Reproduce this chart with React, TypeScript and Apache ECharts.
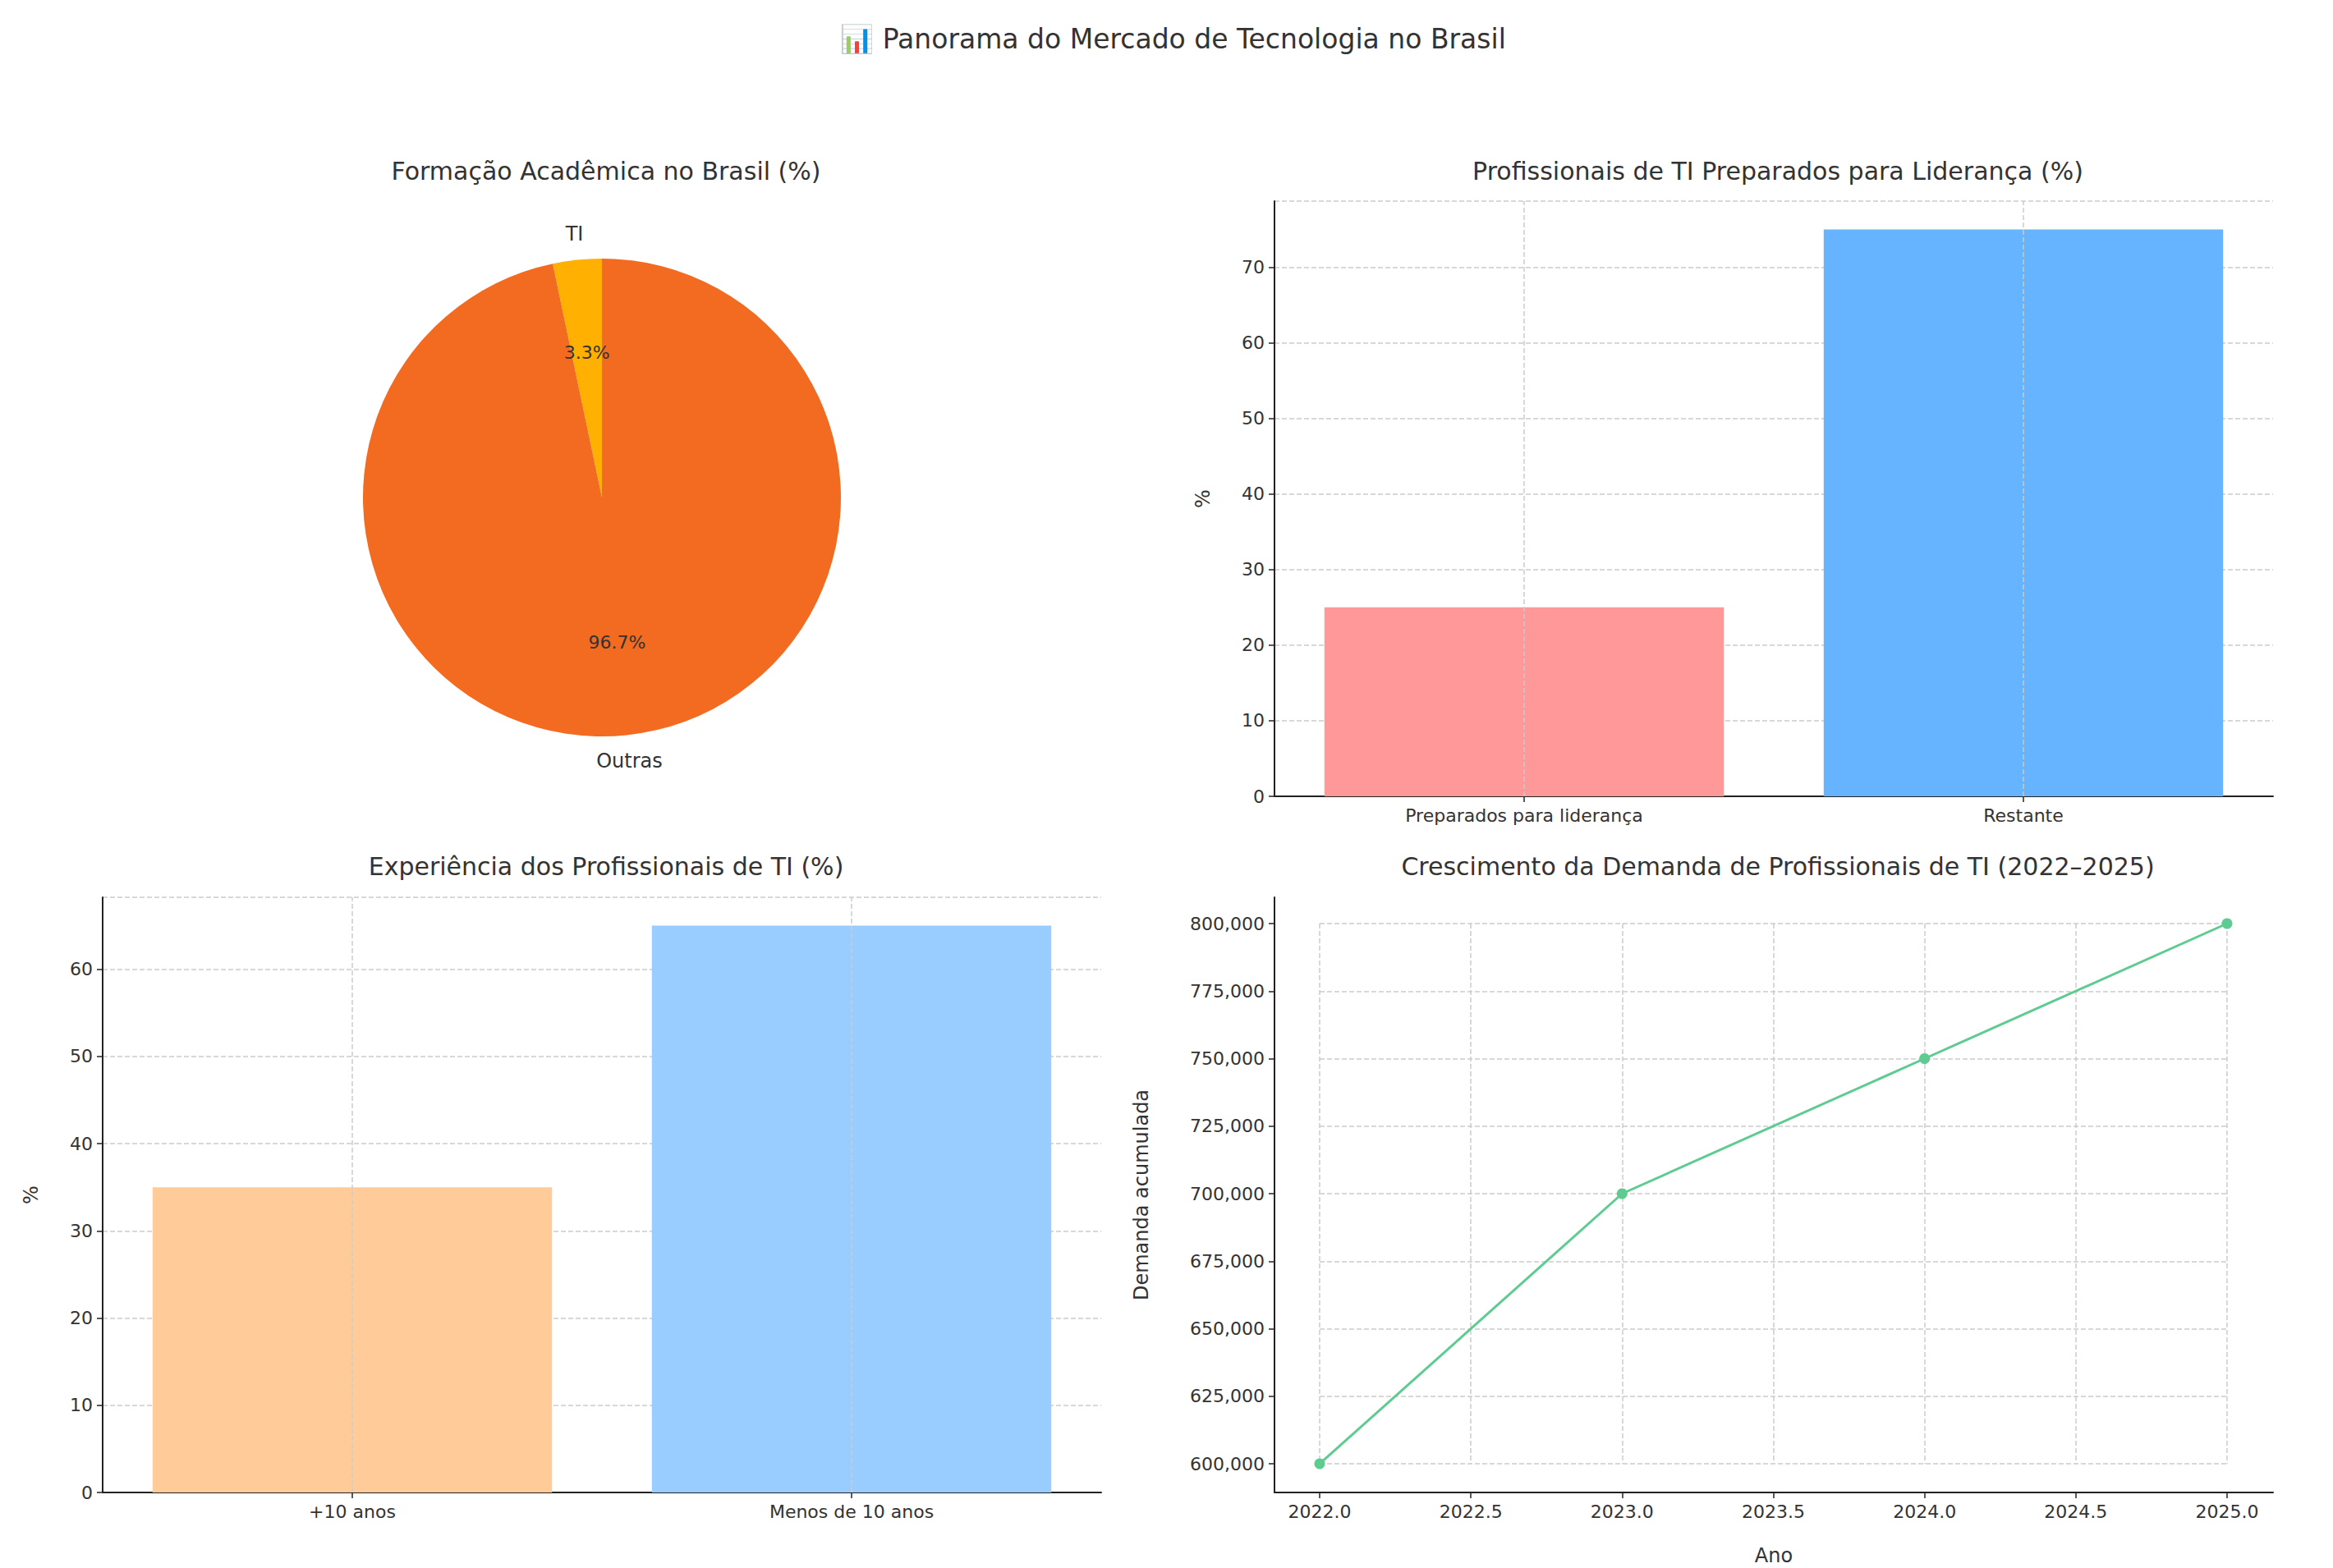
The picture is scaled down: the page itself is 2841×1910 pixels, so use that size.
import React, { useEffect, useRef } from "react";
import * as echarts from "echarts";

const pieNames = ["TI", "Outras"];
const pieValues = [3.3, 96.7];
const liderCats = ["Preparados para liderança", "Restante"];
const liderValues = [25, 75];
const expCats = ["+10 anos", "Menos de 10 anos"];
const expValues = [35, 65];
const anos = [2022, 2023, 2024, 2025];
const demanda = [600000, 700000, 750000, 800000];

const FONT = "DejaVu Sans";
const TXT = "#333";
const gridLine = { show: true, lineStyle: { color: "#ccc", type: "dashed", width: 1.5 } };
const axisLine = { show: true, lineStyle: { color: "#222", width: 2 } };
const tickStyle = { show: true, length: 7, lineStyle: { color: "#222", width: 1.5 } };
const lbl = { color: TXT, fontSize: 22, fontFamily: FONT };

const vLines = (cats: string[]) => ({
  silent: true,
  symbol: "none",
  label: { show: false },
  lineStyle: { color: "#ccc", type: "dashed", width: 1.5 },
  data: cats.map((c) => ({ xAxis: c })),
});

const App: React.FC = () => {
  const ref = useRef<HTMLDivElement>(null);

  useEffect(() => {
    if (!ref.current) return;
    const chart = echarts.init(ref.current, null, { renderer: "svg" });
    const R = 291;
    const center = [725, 598];
    const pieColors = ["#ffb000", "#f26b21"];

    const option = {
      animation: false,
      backgroundColor: "#fff",
      textStyle: { fontFamily: FONT },
      title: [
        { text: "📊 Panorama do Mercado de Tecnologia no Brasil", left: "center", top: 18, textStyle: { fontSize: 33, fontWeight: "normal", color: TXT, fontFamily: FONT } },
        { text: "Formação Acadêmica no Brasil (%)", left: 725, textAlign: "center", top: 180, textStyle: { fontSize: 30, fontWeight: "normal", color: TXT, fontFamily: FONT } },
        { text: "Profissionais de TI Preparados para Liderança (%)", left: 2152, textAlign: "center", top: 180, textStyle: { fontSize: 30, fontWeight: "normal", color: TXT, fontFamily: FONT } },
        { text: "Experiência dos Profissionais de TI (%)", left: 725, textAlign: "center", top: 1027, textStyle: { fontSize: 30, fontWeight: "normal", color: TXT, fontFamily: FONT } },
        { text: "Crescimento da Demanda de Profissionais de TI (2022–2025)", left: 2152, textAlign: "center", top: 1027, textStyle: { fontSize: 30, fontWeight: "normal", color: TXT, fontFamily: FONT } },
      ],
      grid: [
        { left: 1544, width: 1216, top: 237, height: 725 },
        { left: 117, width: 1216, top: 1085, height: 725 },
        { left: 1544, width: 1216, top: 1085, height: 725 },
        { left: 1599, width: 1105, top: 1117, height: 658 },
      ],
      xAxis: [
        { gridIndex: 0, type: "category", data: liderCats, axisLine, axisTick: { ...tickStyle, alignWithLabel: true }, axisLabel: { ...lbl, margin: 12 }, splitLine: { show: false } },
        { gridIndex: 1, type: "category", data: expCats, axisLine, axisTick: { ...tickStyle, alignWithLabel: true }, axisLabel: { ...lbl, margin: 12 }, splitLine: { show: false } },
        { gridIndex: 2, type: "value", min: 2021.85, max: 2025.15, axisLine, axisTick: { show: false }, axisLabel: { show: false }, splitLine: { show: false },
          name: "Ano", nameLocation: "middle", nameGap: 65, nameTextStyle: { ...lbl, fontSize: 24 } },
        { gridIndex: 3, type: "value", min: 2022, max: 2025, interval: 0.5, offset: 35, axisLine: { show: false }, axisTick: tickStyle,
          axisLabel: { ...lbl, margin: 12, formatter: (v: number) => v.toFixed(1) }, splitLine: gridLine },
      ],
      yAxis: [
        { gridIndex: 0, type: "value", min: 0, max: 78.75, interval: 10, axisLine, axisTick: tickStyle, axisLabel: { ...lbl, margin: 12, showMaxLabel: false }, splitLine: gridLine,
          name: "%", nameLocation: "middle", nameGap: 75, nameTextStyle: { ...lbl, fontSize: 24 } },
        { gridIndex: 1, type: "value", min: 0, max: 68.25, interval: 10, axisLine, axisTick: tickStyle, axisLabel: { ...lbl, margin: 12, showMaxLabel: false }, splitLine: gridLine,
          name: "%", nameLocation: "middle", nameGap: 75, nameTextStyle: { ...lbl, fontSize: 24 } },
        { gridIndex: 2, type: "value", min: 590000, max: 810000, axisLine, axisTick: { show: false }, axisLabel: { show: false }, splitLine: { show: false },
          name: "Demanda acumulada", nameLocation: "middle", nameGap: 150, nameTextStyle: { ...lbl, fontSize: 24 } },
        { gridIndex: 3, type: "value", min: 600000, max: 800000, interval: 25000, offset: 55, axisLine: { show: false }, axisTick: tickStyle, axisLabel: { ...lbl, margin: 12 }, splitLine: gridLine },
      ],
      series: [
        {
          type: "pie", center, radius: [0, R], startAngle: 90, clockwise: false, silent: true,
          data: pieNames.map((n, i) => ({ name: n, value: pieValues[i], itemStyle: { color: pieColors[i] } })),
          label: { show: false }, labelLine: { show: false },
        },
        {
          type: "pie", center, radius: [R * 0.2, R], startAngle: 90, clockwise: false, silent: true,
          data: pieNames.map((n, i) => ({ name: n, value: pieValues[i], itemStyle: { color: "transparent" } })),
          label: { show: true, position: "inside", formatter: (p: any) => p.value.toFixed(1) + "%", color: TXT, fontSize: 22, fontFamily: FONT }, labelLine: { show: false },
        },
        {
          type: "pie", center, radius: [R, R * 1.2], startAngle: 90, clockwise: false, silent: true,
          data: pieNames.map((n, i) => ({ name: n, value: pieValues[i], itemStyle: { color: "transparent" } })),
          label: { show: true, position: "inside", formatter: "{b}", color: TXT, fontSize: 24, fontFamily: FONT }, labelLine: { show: false },
        },
        {
          type: "bar", xAxisIndex: 0, yAxisIndex: 0, barWidth: "80%",
          data: liderValues.map((v, i) => ({ value: v, itemStyle: { color: ["#ff9999", "#66b3ff"][i] } })),
          markLine: vLines(liderCats), z: 1,
        },
        {
          type: "bar", xAxisIndex: 1, yAxisIndex: 1, barWidth: "80%",
          data: expValues.map((v, i) => ({ value: v, itemStyle: { color: ["#ffcc99", "#99ccff"][i] } })),
          markLine: vLines(expCats), z: 1,
        },
        {
          type: "line", xAxisIndex: 3, yAxisIndex: 3,
          data: anos.map((a, i) => [a, demanda[i]]),
          lineStyle: { color: "#5ecb91", width: 3 }, itemStyle: { color: "#5ecb91" },
          symbol: "circle", symbolSize: 13,
        },
      ],
    };
    chart.setOption(option);
    return () => chart.dispose();
  }, []);

  return <div ref={ref} style={{ width: 2841, height: 1910 }} />;
};

export default App;
